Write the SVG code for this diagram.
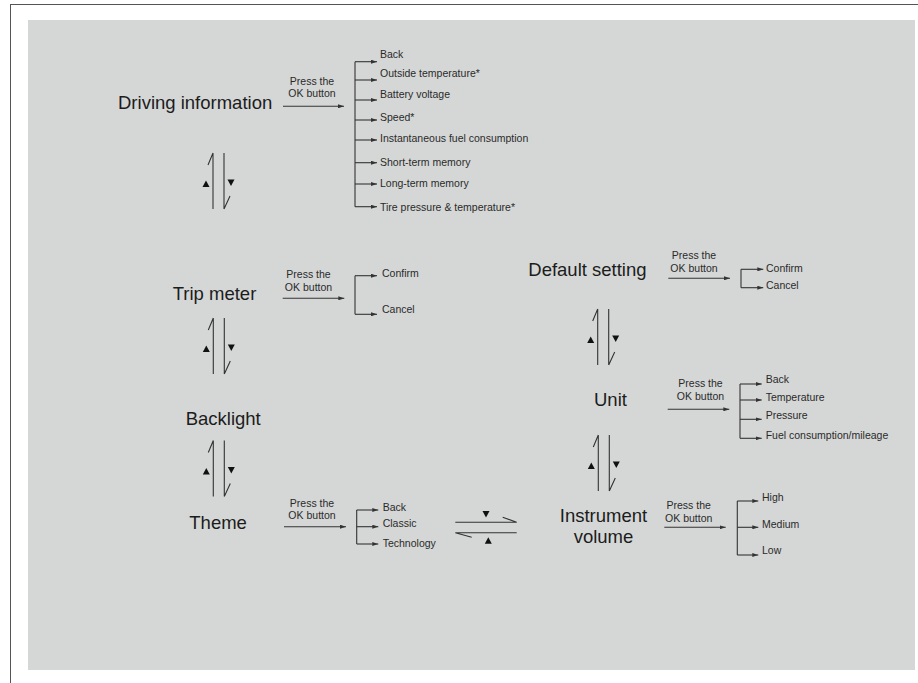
<svg xmlns="http://www.w3.org/2000/svg" width="918" height="683" viewBox="0 0 918 683">
<style>
.big{font-family:"Liberation Sans",Arial,sans-serif;font-size:18.5px;fill:#1c1c1c}
.sm{font-family:"Liberation Sans",Arial,sans-serif;font-size:10.5px;fill:#2a2a2a}
.mid{text-anchor:middle}
.ln{stroke:#333;stroke-width:1.1;fill:none}
.ar{stroke:#333;stroke-width:1.1;fill:none;marker-end:url(#ah)}
.tri{fill:#111}
</style>
<defs>
<marker id="ah" viewBox="0 0 6 4" refX="6" refY="2" markerWidth="6" markerHeight="4" markerUnits="userSpaceOnUse" orient="auto">
<path d="M0,0 L6,2 L0,4 z" fill="#333"/>
</marker>
<g id="vpair">
<path class="ln" d="M0,0 V56 M0,0 L-5,12 M11,0 V56 M11,56 L17,43"/>
<path class="tri" d="M-10.5,34 L-3.5,34 L-7,27.5 z"/>
<path class="tri" d="M14.5,26.5 L21.5,26.5 L18,33 z"/>
</g>
</defs>
<rect x="0" y="0" width="918" height="683" fill="#ffffff"/>
<path d="M10,4.5 H918 M10.5,4 V683" stroke="#555" stroke-width="1" fill="none"/>
<rect x="28" y="20" width="887" height="650" fill="#d5d7d6"/>

<g id="connectors">
<!-- driving info -->
<path class="ar" d="M283,106.3 H344"/>
<path class="ln" d="M355,61.7 V206.7"/>
<path class="ar" d="M355,61.7 H377"/>
<path class="ar" d="M355,80 H377"/>
<path class="ar" d="M355,100 H377"/>
<path class="ar" d="M355,120 H377"/>
<path class="ar" d="M355,140 H377"/>
<path class="ar" d="M355,162.7 H377"/>
<path class="ar" d="M355,184 H377"/>
<path class="ar" d="M355,206.7 H377"/>
<!-- trip meter -->
<path class="ar" d="M282.7,298.3 H344.3"/>
<path class="ln" d="M355,275.7 V314.3"/>
<path class="ar" d="M355,275.7 H377"/>
<path class="ar" d="M355,314.3 H377"/>
<!-- theme -->
<path class="ar" d="M284,526.7 H346"/>
<path class="ln" d="M356.7,510 V544"/>
<path class="ar" d="M356.7,510 H378.3"/>
<path class="ar" d="M356.7,526.7 H378.3"/>
<path class="ar" d="M356.7,544 H378.3"/>
<!-- default setting -->
<path class="ar" d="M668.3,278.3 H730"/>
<path class="ln" d="M741,269.3 V287.7"/>
<path class="ar" d="M741,269.3 H763.3"/>
<path class="ar" d="M741,287.7 H763.3"/>
<!-- unit -->
<path class="ar" d="M667.7,409.3 H729.3"/>
<path class="ln" d="M740,384 V438.3"/>
<path class="ar" d="M740,384 H761.7"/>
<path class="ar" d="M740,400 H761.7"/>
<path class="ar" d="M740,419.3 H761.7"/>
<path class="ar" d="M740,438.3 H761.7"/>
<!-- instrument volume -->
<path class="ar" d="M664.3,527.3 H725.7"/>
<path class="ln" d="M737.3,501 V555"/>
<path class="ar" d="M737.3,501 H758.3"/>
<path class="ar" d="M737.3,527.3 H758.3"/>
<path class="ar" d="M737.3,555 H758.3"/>
<!-- vertical up/down pairs -->
<use href="#vpair" transform="translate(213,153)"/>
<use href="#vpair" transform="translate(213.3,318)"/>
<use href="#vpair" transform="translate(213.3,440.5)"/>
<use href="#vpair" transform="translate(597.7,309)"/>
<use href="#vpair" transform="translate(598.3,435)"/>
<!-- horizontal pair theme <-> instrument volume -->
<path class="ln" d="M455.3,522.3 H516.7 L502.7,517.3 M455.3,532.7 H516.7 M455.3,532.7 L471.7,537.3"/>
<path class="tri" d="M482.5,511 L489.5,511 L486,517.5 z"/>
<path class="tri" d="M484.8,543.8 L491.8,543.8 L488.3,537.3 z"/>
</g>

<g id="node-driving-information">
<text class="big" x="118" y="109">Driving information</text>
<text class="sm mid" x="312" y="85">Press the</text>
<text class="sm mid" x="312" y="97">OK button</text>
<text class="sm" x="380" y="58.3">Back</text>
<text class="sm" x="380" y="77.3">Outside temperature*</text>
<text class="sm" x="380" y="98.3">Battery voltage</text>
<text class="sm" x="380" y="120.5">Speed*</text>
<text class="sm" x="380" y="141.7">Instantaneous fuel consumption</text>
<text class="sm" x="380" y="165.7">Short-term memory</text>
<text class="sm" x="380" y="186.7">Long-term memory</text>
<text class="sm" x="380" y="210.7">Tire pressure &amp; temperature*</text>
</g>

<g id="node-trip-meter">
<text class="big" x="172.7" y="300">Trip meter</text>
<text class="sm mid" x="308.5" y="278.3">Press the</text>
<text class="sm mid" x="308.5" y="291">OK button</text>
<text class="sm" x="382" y="276.7">Confirm</text>
<text class="sm" x="382" y="313.3">Cancel</text>
</g>

<g id="node-backlight">
<text class="big" x="185.7" y="425">Backlight</text>
</g>

<g id="node-theme">
<text class="big" x="189.3" y="529.3">Theme</text>
<text class="sm mid" x="312" y="507.3">Press the</text>
<text class="sm mid" x="312" y="519.3">OK button</text>
<text class="sm" x="382.7" y="510.7">Back</text>
<text class="sm" x="382.7" y="527.3">Classic</text>
<text class="sm" x="382.7" y="546.7">Technology</text>
</g>

<g id="node-default-setting">
<text class="big" x="528.3" y="275.7">Default setting</text>
<text class="sm mid" x="694" y="259">Press the</text>
<text class="sm mid" x="694" y="272.3">OK button</text>
<text class="sm" x="766" y="271.7">Confirm</text>
<text class="sm" x="766" y="289.3">Cancel</text>
</g>

<g id="node-unit">
<text class="big" x="594" y="406">Unit</text>
<text class="sm mid" x="700.5" y="387.3">Press the</text>
<text class="sm mid" x="700.5" y="400">OK button</text>
<text class="sm" x="765.7" y="383.3">Back</text>
<text class="sm" x="765.7" y="400.7">Temperature</text>
<text class="sm" x="765.7" y="419.3">Pressure</text>
<text class="sm" x="765.7" y="439.3">Fuel consumption/mileage</text>
</g>

<g id="node-instrument-volume">
<text class="big mid" x="603.5" y="521.7">Instrument</text>
<text class="big mid" x="603.5" y="543.3">volume</text>
<text class="sm mid" x="688.7" y="509.3">Press the</text>
<text class="sm mid" x="688.7" y="521.7">OK button</text>
<text class="sm" x="762" y="501">High</text>
<text class="sm" x="762" y="527.5">Medium</text>
<text class="sm" x="762" y="553.5">Low</text>
</g>
</svg>
